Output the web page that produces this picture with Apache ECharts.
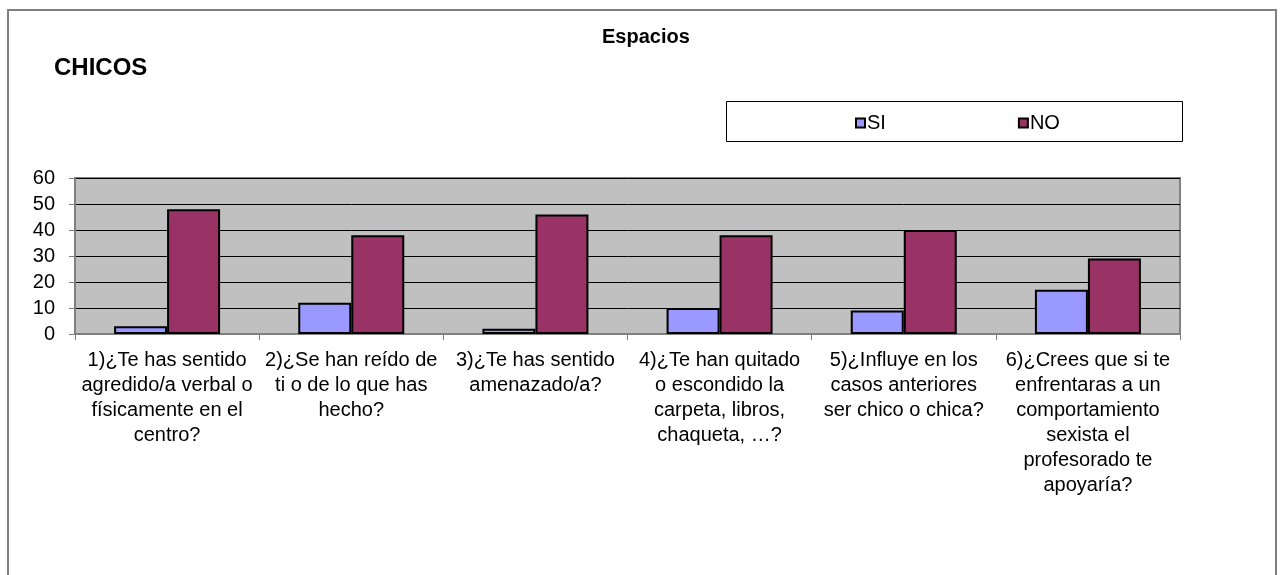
<!DOCTYPE html>
<html>
<head>
<meta charset="utf-8">
<script src="https://cdn.jsdelivr.net/npm/echarts@6/dist/echarts.min.js"></script>
<style>
html, body { margin: 0; padding: 0; background: #fff; }
#main { width: 1281px; height: 575px; }
</style>
</head>
<body>
<div id="main"></div>
<script>
let categories = [
    '1)¿Te has sentido\nagredido/a verbal o\nfísicamente en el\ncentro?',
    '2)¿Se han reído de\nti o de lo que has\nhecho?',
    '3)¿Te has sentido\namenazado/a?',
    '4)¿Te han quitado\no escondido la\ncarpeta, libros,\nchaqueta, …?',
    '5)¿Influye en los\ncasos anteriores\nser chico o chica?',
    '6)¿Crees que si te\nenfrentaras a un\ncomportamiento\nsexista el\nprofesorado te\napoyaría?'
]
let siValues = [3, 12, 2, 10, 9, 17]
let noValues = [48, 38, 46, 38, 40, 29]
let yMin = 0
let yMax = 60
let yStep = 10

let font = 'Liberation Sans, Arial, sans-serif'

let myChart = echarts.init(document.getElementById('main'))

let option = {
    animation: false,
    title: [
        {
            text: 'Espacios',
            left: 602,
            top: 27,
            padding: 0,
            textStyle: { fontFamily: font, fontSize: 20, fontWeight: 'bold', color: '#000' }
        },
        {
            text: 'CHICOS',
            left: 54,
            top: 56,
            padding: 0,
            textStyle: { fontFamily: font, fontSize: 24, fontWeight: 'bold', color: '#000' }
        }
    ],
    graphic: [
        {
            type: 'rect',
            shape: { x: 8, y: 10, width: 1268, height: 600 },
            style: { fill: 'none', stroke: '#808080', lineWidth: 2 },
            z: -10
        },
        {
            type: 'rect',
            shape: { x: 726.5, y: 101.5, width: 456, height: 40 },
            style: { fill: '#fff', stroke: '#000', lineWidth: 1 },
            z: -5
        }
    ],
    legend: {
        left: 855,
        top: 113,
        padding: 0,
        itemWidth: 9,
        itemHeight: 9,
        itemGap: 132,
        icon: 'rect',
        textStyle: { fontFamily: font, fontSize: 20, color: '#000', padding: [0, 0, 0, -3] },
        data: ['SI', 'NO']
    },
    grid: {
        left: 75,
        right: 101,
        top: 178,
        bottom: 241,
        show: true,
        backgroundColor: '#C0C0C0',
        borderColor: '#808080',
        borderWidth: 2
    },
    xAxis: {
        type: 'category',
        data: categories,
        axisLine: { show: true, lineStyle: { color: '#808080', width: 2 } },
        axisTick: { show: true, length: 6, lineStyle: { color: '#808080' } },
        axisLabel: {
            interval: 0,
            hideOverlap: false,
            margin: 14,
            fontFamily: font,
            fontSize: 20,
            lineHeight: 25,
            color: '#000',
            align: 'center'
        }
    },
    yAxis: {
        type: 'value',
        min: yMin,
        max: yMax,
        interval: yStep,
        axisLine: { show: true, lineStyle: { color: '#808080', width: 2 } },
        axisTick: { show: true, length: 6, lineStyle: { color: '#808080' } },
        splitLine: { show: true, lineStyle: { color: '#000', width: 1 } },
        axisLabel: {
            margin: 20,
            fontFamily: font,
            fontSize: 20,
            color: '#000'
        }
    },
    series: [
        {
            name: 'SI',
            type: 'bar',
            data: siValues,
            barWidth: 53,
            barGap: '0%',
            itemStyle: { color: '#9999FF', borderColor: '#000', borderWidth: 2 }
        },
        {
            name: 'NO',
            type: 'bar',
            data: noValues,
            barWidth: 53,
            barGap: '0%',
            itemStyle: { color: '#993366', borderColor: '#000', borderWidth: 2 }
        }
    ]
}

myChart.setOption(option)
</script>
</body>
</html>
